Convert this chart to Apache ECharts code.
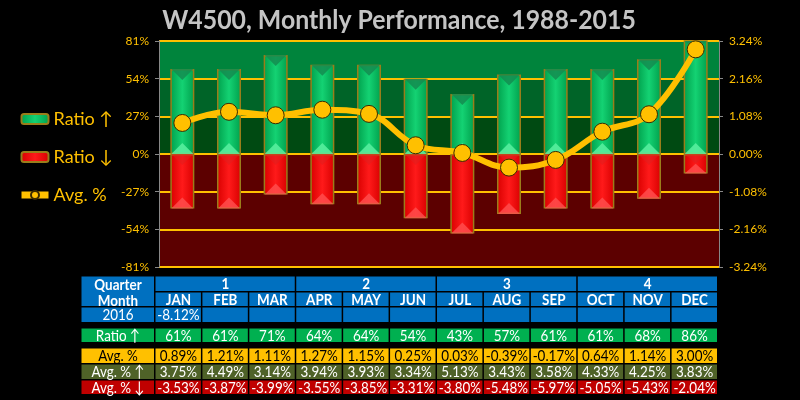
<!DOCTYPE html>
<html>
<head>
<meta charset="utf-8">
<script src="https://cdn.jsdelivr.net/npm/echarts@6/dist/echarts.min.js"></script>
<style>
html,body{margin:0;padding:0;background:#000;}
#main{width:800px;height:400px;}
</style>
</head>
<body>
<div id="main"></div>
<script>
// ---- data ----
const months = ['JAN','FEB','MAR','APR','MAY','JUN','JUL','AUG','SEP','OCT','NOV','DEC'];
const quarters = ['1','2','3','4'];
const ratioUp = [61,61,71,64,64,54,43,57,61,61,68,86];
const ratioDown = [-39,-39,-29,-36,-36,-46,-57,-43,-39,-39,-32,-14];
const avgPct = [0.89,1.21,1.11,1.27,1.15,0.25,0.03,-0.39,-0.17,0.64,1.14,3.00];
const avgUp = [3.75,4.49,3.14,3.94,3.93,3.34,5.13,3.43,3.58,4.33,4.25,3.83];
const avgDown = [-3.53,-3.87,-3.99,-3.55,-3.85,-3.31,-3.80,-5.48,-5.97,-5.05,-5.43,-2.04];
const y2016 = ['-8.12%','','','','','','','','','','',''];
const rowLabels = ['Quarter','Month','2016','Ratio ↑','Avg. %','Avg. % ↑','Avg. % ↓'];
const leftAxis = {min:-81, max:81, interval:27};
const rightAxis = {min:-3.24, max:3.24, interval:1.08};

const FONT = 'Lato';
const YEL = '#FFC000';

// ---- table layout ----
const TX0 = 81, TX1 = 155, TX2 = 718;
const CW = (TX2 - TX1) / 12;
const rows = {
  q:[276,292], m:[292,307], y:[307,323], r:[328,343], a:[348,364], au:[364,380], ad:[380,395]
};
const graphics = [];
const SX = 0.84;
const FS = 16;
function txt(x, y, text, color, bold){
  graphics.push({type:'text', x:x, y:y, scaleX:SX, z:11,
    style:{text:text, x:0, y:0, fill:color, font:(bold?'bold ':'')+FS+'px '+FONT,
      textAlign:'center', textVerticalAlign:'middle'}});
}
function cell(x0, x1, y0, y1, fill, text, color, bold){
  graphics.push({type:'rect', shape:{x:x0+0.5, y:y0+0.5, width:x1-x0-1.5, height:y1-y0-1.5},
    style:{fill:fill}, z:10});
  if(text!=='') txt((x0+x1)/2, (y0+y1)/2, text, color, bold);
}
function mx(i){return TX1 + i*CW;}
const BLUE = '#0070C0';
graphics.push({type:'rect', shape:{x:TX0+0.5,y:rows.q[0]+0.5,width:TX1-TX0-1.5,height:rows.m[1]-rows.q[0]-1.5}, style:{fill:BLUE}, z:10});
txt((TX0+TX1)/2, (rows.q[0]+rows.q[1])/2+1, rowLabels[0], '#fff', true);
txt((TX0+TX1)/2, (rows.m[0]+rows.m[1])/2+1, rowLabels[1], '#fff', true);
quarters.forEach((q,i)=>cell(mx(i*3), mx(i*3+3), rows.q[0], rows.q[1], BLUE, q, '#fff', true));
months.forEach((m,i)=>cell(mx(i), mx(i+1), rows.m[0], rows.m[1], BLUE, m, '#fff', true));
cell(TX0, TX1, rows.y[0], rows.y[1], BLUE, rowLabels[2], '#fff', false);
y2016.forEach((v,i)=>cell(mx(i), mx(i+1), rows.y[0], rows.y[1], BLUE, v, '#fff', false));
cell(TX0, TX1, rows.r[0], rows.r[1], '#00B050', rowLabels[3], '#fff', false);
ratioUp.forEach((v,i)=>cell(mx(i), mx(i+1), rows.r[0], rows.r[1], '#00B050', v+'%', '#fff', false));
cell(TX0, TX1, rows.a[0], rows.a[1], YEL, rowLabels[4], '#000', false);
avgPct.forEach((v,i)=>cell(mx(i), mx(i+1), rows.a[0], rows.a[1], YEL, v.toFixed(2)+'%', '#000', false));
cell(TX0, TX1, rows.au[0], rows.au[1], '#4F6228', rowLabels[5], '#fff', false);
avgUp.forEach((v,i)=>cell(mx(i), mx(i+1), rows.au[0], rows.au[1], '#4F6228', v.toFixed(2)+'%', '#fff', false));
cell(TX0, TX1, rows.ad[0], rows.ad[1], '#C00000', rowLabels[6], '#fff', false);
avgDown.forEach((v,i)=>cell(mx(i), mx(i+1), rows.ad[0], rows.ad[1], '#C00000', v.toFixed(2)+'%', '#fff', false));

graphics.push({type:'text', x:399, y:20, scaleX:0.92, z:11,
  style:{text:'W4500, Monthly Performance, 1988-2015', x:0, y:0, fill:'#C4C4C4', font:'bold 27px '+FONT,
    textAlign:'center', textVerticalAlign:'middle'}});

const greenGrad = {type:'linear',x:0,y:0,x2:1,y2:0,colorStops:[{offset:0,color:'#00a04c'},{offset:0.5,color:'#14d273'},{offset:1,color:'#00a04c'}]};
const redGrad = {type:'linear',x:0,y:0,x2:1,y2:0,colorStops:[{offset:0,color:'#d80000'},{offset:0.5,color:'#ff1a1a'},{offset:1,color:'#d80000'}]};
const BW = 24;

// bevel triangles drawn on top of bars, positioned through the axes
function bevel(sign, capColor, baseColor){
  return function(params, api){
    const v = api.value(1);
    const top = api.coord([api.value(0), v]);
    const base = api.coord([api.value(0), 0]);
    const endY = sign > 0 ? Math.max(top[1], params.coordSys.y)
                          : Math.min(top[1], params.coordSys.y + params.coordSys.height);
    const cx = base[0], hw = BW/2 - 1;
    const len = Math.abs(endY - base[1]);
    const h = Math.min(hw, len/2);
    const dir = sign > 0 ? 1 : -1;
    return {type:'group', children:[
      {type:'polygon', shape:{points:[[cx-hw,endY],[cx+hw,endY],[cx,endY+dir*h]]}, style:{fill:capColor}},
      {type:'polygon', shape:{points:[[cx-hw,base[1]],[cx+hw,base[1]],[cx,base[1]-dir*h]]}, style:{fill:baseColor}}
    ]};
  };
}

const chart = echarts.init(document.getElementById('main'), null, {renderer:'canvas'});
chart.setOption({
  backgroundColor:'#000',
  animation:false,
  graphic:graphics,
  legend:{
    orient:'vertical', left:13, top:105, itemGap:20, itemWidth:27, itemHeight:10,
    textStyle:{color:YEL, fontSize:18, fontFamily:FONT},
    data:[{name:'Ratio ↑'},{name:'Ratio ↓'},{name:'Avg. %', lineStyle:{width:7}}]
  },
  grid:{left:159, right:81, top:41, bottom:133, containLabel:false},
  xAxis:[{type:'category', data:months, show:false}],
  yAxis:[
    {type:'value', min:leftAxis.min, max:leftAxis.max, interval:leftAxis.interval,
     axisLine:{show:true, lineStyle:{color:'#888'}},
     axisTick:{show:true, length:4, lineStyle:{color:'#888'}},
     axisLabel:{color:YEL, fontSize:12, fontFamily:FONT, margin:10, formatter:'{value}%'},
     splitLine:{show:true, lineStyle:{color:YEL, width:2}},
     splitArea:{show:true, areaStyle:{color:['#5c0000','#5c0000','#5c0000','#004a12','#006428','#00843c']}}
    },
    {type:'value', min:rightAxis.min, max:rightAxis.max, interval:rightAxis.interval,
     axisLine:{show:true, lineStyle:{color:'#888'}},
     axisTick:{show:true, length:4, lineStyle:{color:'#888'}},
     axisLabel:{color:YEL, fontSize:12, fontFamily:FONT, margin:10, formatter:v=>v.toFixed(2)+'%'},
     splitLine:{show:false}
    }
  ],
  series:[
    {name:'Ratio ↑', type:'bar', data:ratioUp, barWidth:BW, barGap:'-100%',
     itemStyle:{color:greenGrad, borderColor:'#9a7d1a', borderWidth:1.5}},
    {name:'Ratio ↓', type:'bar', data:ratioDown, barWidth:BW, barGap:'-100%',
     itemStyle:{color:redGrad, borderColor:'#9a7d1a', borderWidth:1.5}},
    {name:'bevelUp', type:'custom', data:ratioUp.map((v,i)=>[i,v]), renderItem:bevel(1,'rgba(20,140,80,0.85)','rgba(90,240,160,0.85)'), z:3, silent:true, clip:true},
    {name:'bevelDown', type:'custom', data:ratioDown.map((v,i)=>[i,v]), renderItem:bevel(-1,'rgba(255,80,80,0.8)','rgba(225,30,30,0.6)'), z:3, silent:true, clip:true},
    {name:'Avg. %', type:'line', yAxisIndex:1, data:avgPct, smooth:0.4, z:5,
     symbol:'circle', symbolSize:17,
     lineStyle:{color:YEL, width:6},
     itemStyle:{color:YEL, borderColor:'#3a2a00', borderWidth:1}}
  ]
});
</script>
</body>
</html>
